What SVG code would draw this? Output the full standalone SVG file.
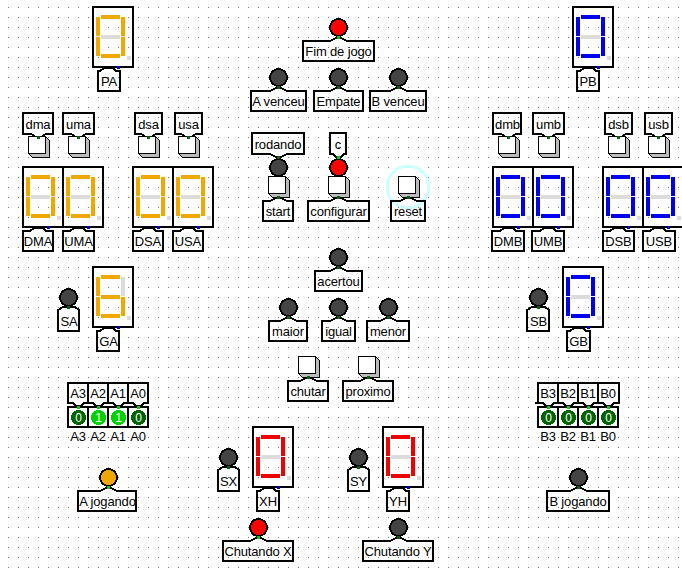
<svg xmlns="http://www.w3.org/2000/svg" width="682" height="574" viewBox="0 0 682 574">
<style>
*{shape-rendering:crispEdges}
text{font-family:"Liberation Sans",Arial,sans-serif;font-size:13px;letter-spacing:-.15px;fill:#000;text-anchor:middle}
.t{fill:none;stroke:#000;stroke-width:2;stroke-linejoin:miter}
.l{stroke:#000;stroke-width:2}
.off{fill:#444}.red{fill:#f00}.org{fill:#f0a800}
.pd{fill:#006400}.pb{fill:#00d200}
.o{color:#f0a800}.b{color:#0000f0}.r{color:#f00000}
.bit{fill:#fff;stroke:#000;stroke-width:2}
.v{fill:#fff;font-size:12px;letter-spacing:0}
</style>
<defs>
<pattern id="grid" patternUnits="userSpaceOnUse" width="10" height="10"><rect x="8" y="7" width="1" height="1" fill="#777"/></pattern>
<g id="segs">
<rect x="8" y="8" width="19" height="4" fill="currentColor"/>
<rect x="3" y="10" width="4" height="19" fill="currentColor"/>
<rect x="3" y="30" width="4" height="19" fill="currentColor"/>
<rect x="8" y="47" width="19" height="4" fill="currentColor"/>
<rect x="28" y="30" width="4" height="19" fill="currentColor"/>
</g>
<g id="frame">
<rect width="40" height="60" fill="none" stroke="#000" stroke-width="2"/>
<rect x="34" y="49" width="4" height="4" fill="#dcdcdc"/>
<rect x="24" y="59" width="3" height="3" fill="#0000d2"/>
</g>
<g id="d0">
<use href="#frame"/><use href="#segs"/>
<rect x="28" y="10" width="4" height="19" fill="currentColor"/>
<rect x="8" y="28" width="19" height="4" fill="#dcdcdc"/>
</g>
<g id="d6">
<use href="#frame"/><use href="#segs"/>
<rect x="28" y="10" width="4" height="19" fill="#dcdcdc"/>
<rect x="8" y="28" width="19" height="4" fill="currentColor"/>
</g>
<g id="btn">
<path d="M17.500 .5L21.500 4.500V21.500H4.500L.5 17.500H17.500Z" fill="#bbb" stroke="#000" stroke-width="1"/>
<rect x=".5" y=".5" width="17" height="17" fill="#fff" stroke="#000" stroke-width="1"/>
</g>
<rect id="pd" width="3" height="3" fill="#006400"/>
<rect id="pb" width="3" height="3" fill="#00d200"/>
</defs>
<rect width="682" height="574" fill="#fff"/>
<rect width="682" height="574" fill="url(#grid)"/>

<g id="PA"><use href="#d0" class="o" x="93" y="7"/><path class="t" d="M98 71H100L104 68H113L116 71H120V91H98Z"/><text x="109" y="86">PA</text></g>
<g id="PB"><use href="#d0" class="b" x="573" y="7"/><path class="t" d="M577 71H580L584 68H593L596 71H599V91H577Z"/><text x="588" y="86">PB</text></g>

<g id="dma"><path class="t" d="M23 113H53V134H46L41 137H36L31 134H23Z"/><text x="38" y="129">dma</text><use href="#btn" x="28" y="136"/><use href="#pd" x="37" y="136"/></g>
<g id="uma"><path class="t" d="M63 113H94V134H86L81 137H76L71 134H63Z"/><text x="78.500" y="129">uma</text><use href="#btn" x="68" y="136"/><use href="#pd" x="77" y="136"/></g>
<g id="dsa"><path class="t" d="M135 113H162V134H156L151 137H146L141 134H135Z"/><text x="148.500" y="129">dsa</text><use href="#btn" x="138" y="136"/><use href="#pd" x="147" y="136"/></g>
<g id="usa"><path class="t" d="M175 113H202V134H196L191 137H186L181 134H175Z"/><text x="188.500" y="129">usa</text><use href="#btn" x="178" y="136"/><use href="#pd" x="187" y="136"/></g>
<g id="dmb"><path class="t" d="M493 113H521V134H516L511 137H506L501 134H493Z"/><text x="507.500" y="129">dmb</text><use href="#btn" x="498" y="136"/><use href="#pd" x="507" y="136"/></g>
<g id="umb"><path class="t" d="M533 113H564V134H556L551 137H546L541 134H533Z"/><text x="548.500" y="129">umb</text><use href="#btn" x="538" y="136"/><use href="#pd" x="547" y="136"/></g>
<g id="dsb"><path class="t" d="M605 113H632V134H626L621 137H616L611 134H605Z"/><text x="618.500" y="129">dsb</text><use href="#btn" x="608" y="136"/><use href="#pd" x="617" y="136"/></g>
<g id="usb"><path class="t" d="M645 113H672V134H666L661 137H656L651 134H645Z"/><text x="658.500" y="129">usb</text><use href="#btn" x="648" y="136"/><use href="#pd" x="657" y="136"/></g>

<g id="DMA"><use href="#d0" class="o" x="23" y="167"/><path class="t" d="M23 231H30L34 228H43L46 231H53V251H23Z"/><text x="38" y="246">DMA</text></g>
<g id="UMA"><use href="#d0" class="o" x="63" y="167"/><path class="t" d="M63 231H70L74 228H83L86 231H94V251H63Z"/><text x="78.500" y="246">UMA</text></g>
<g id="DSA"><use href="#d0" class="o" x="133" y="167"/><path class="t" d="M133 231H140L144 228H153L156 231H163V251H133Z"/><text x="148" y="246">DSA</text></g>
<g id="USA"><use href="#d0" class="o" x="173" y="167"/><path class="t" d="M173 231H180L184 228H193L196 231H203V251H173Z"/><text x="188" y="246">USA</text></g>
<g id="DMB"><use href="#d0" class="b" x="493" y="167"/><path class="t" d="M492 231H500L504 228H513L516 231H524V251H492Z"/><text x="508" y="246">DMB</text></g>
<g id="UMB"><use href="#d0" class="b" x="533" y="167"/><path class="t" d="M532 231H540L544 228H553L556 231H564V251H532Z"/><text x="548" y="246">UMB</text></g>
<g id="DSB"><use href="#d0" class="b" x="603" y="167"/><path class="t" d="M603 231H610L614 228H623L626 231H634V251H603Z"/><text x="618.500" y="246">DSB</text></g>
<g id="USB"><use href="#d0" class="b" x="643" y="167"/><path class="t" d="M643 231H650L654 228H663L666 231H675V251H643Z"/><text x="659" y="246">USB</text></g>

<g id="fim"><circle class="l red" cx="338.500" cy="27.500" r="8.500"/><path class="t" d="M303 41H330L336 38H341L347 41H374V61H303Z"/><use href="#pb" x="337" y="36"/><text x="338.500" y="56">Fim de jogo</text></g>
<g id="avenceu"><circle class="l off" cx="278.500" cy="77.500" r="8.500"/><path class="t" d="M251 91H270L276 88H281L287 91H306V111H251Z"/><use href="#pd" x="277" y="86"/><text x="278.500" y="106">A venceu</text></g>
<g id="empate"><circle class="l off" cx="338.500" cy="77.500" r="8.500"/><path class="t" d="M314 91H330L336 88H341L347 91H363V111H314Z"/><use href="#pd" x="337" y="86"/><text x="338.500" y="106">Empate</text></g>
<g id="bvenceu"><circle class="l off" cx="398.500" cy="77.500" r="8.500"/><path class="t" d="M370 91H390L396 88H401L407 91H426V111H370Z"/><use href="#pd" x="397" y="86"/><text x="398" y="106">B venceu</text></g>

<g id="rodando"><path class="t" d="M252 133H304V154H287L281 157H276L270 154H252Z"/><text x="278" y="149">rodando</text><circle class="l off" cx="278.500" cy="167.500" r="8.500"/><use href="#pd" x="277" y="156"/></g>
<g id="c"><path class="t" d="M330 133H346V154H344L341 157H336L333 154H330Z"/><text x="338" y="149">c</text><circle class="l red" cx="338.500" cy="167.500" r="8.500"/><use href="#pb" x="337" y="156"/></g>
<g id="start"><use href="#btn" x="268" y="176"/><path class="t" d="M263 201H270L276 198H281L287 201H293V221H263Z"/><use href="#pd" x="277" y="196"/><text x="278" y="216">start</text></g>
<g id="configurar"><use href="#btn" x="328" y="176"/><path class="t" d="M308 201H330L336 198H341L347 201H369V221H308Z"/><use href="#pd" x="337" y="196"/><text x="338.500" y="216">configurar</text></g>
<g id="reset"><circle cx="408" cy="187" r="21" fill="none" stroke="#ccffff" stroke-width="3"/><use href="#btn" x="398" y="176"/><path class="t" d="M391 201H400L406 198H411L417 201H425V221H391Z"/><use href="#pd" x="407" y="196"/><text x="408" y="216">reset</text></g>

<g id="acertou"><circle class="l off" cx="338.500" cy="257.500" r="8.500"/><path class="t" d="M315 271H330L336 268H341L347 271H362V291H315Z"/><use href="#pd" x="337" y="266"/><text x="338.500" y="286">acertou</text></g>
<g id="maior"><circle class="l off" cx="288.500" cy="307.500" r="8.500"/><path class="t" d="M269 321H280L286 318H291L297 321H307V341H269Z"/><use href="#pd" x="287" y="316"/><text x="288" y="336">maior</text></g>
<g id="igual"><circle class="l off" cx="338.500" cy="307.500" r="8.500"/><path class="t" d="M322 321H330L336 318H341L347 321H355V341H322Z"/><use href="#pd" x="337" y="316"/><text x="338.500" y="336">igual</text></g>
<g id="menor"><circle class="l off" cx="388.500" cy="307.500" r="8.500"/><path class="t" d="M367 321H380L386 318H391L397 321H409V341H367Z"/><use href="#pd" x="387" y="316"/><text x="388" y="336">menor</text></g>
<g id="chutar"><use href="#btn" x="298" y="356"/><path class="t" d="M288 381H300L306 378H311L317 381H328V401H288Z"/><use href="#pd" x="307" y="376"/><text x="308" y="396">chutar</text></g>
<g id="proximo"><use href="#btn" x="358" y="356"/><path class="t" d="M343 381H360L366 378H371L377 381H393V401H343Z"/><use href="#pd" x="367" y="376"/><text x="368" y="396">proximo</text></g>

<g id="SA"><circle class="l off" cx="68.500" cy="297.500" r="8.500"/><path class="t" d="M58 310L63 307H75L79 310V331H58Z"/><use href="#pd" x="67" y="306"/><text x="69" y="326">SA</text></g>
<g id="GA"><use href="#d6" class="o" x="93" y="267"/><path class="t" d="M97 331H100L104 328H113L116 331H119V351H97Z"/><text x="108.500" y="346">GA</text></g>
<g id="SB"><circle class="l off" cx="538.500" cy="297.500" r="8.500"/><path class="t" d="M527 310L532 307H545L549 310V331H527Z"/><use href="#pd" x="537" y="306"/><text x="538.500" y="326">SB</text></g>
<g id="GB"><use href="#d0" class="b" x="563" y="267"/><path class="t" d="M567 331H570L574 328H583L586 331H590V351H567Z"/><text x="578.500" y="346">GB</text></g>

<g id="A3"><path class="t" d="M68 383H88V403H84L81 406H76L73 403H68Z"/><text x="78" y="398">A3</text><rect class="bit" x="68" y="407" width="20" height="20"/><circle class="pd" cx="78.500" cy="417.500" r="7.500"/><text class="v" x="78.500" y="422">0</text><use href="#pb" x="77" y="406"/><text x="78" y="441">A3</text></g>
<g id="A2"><path class="t" d="M88 383H108V403H104L101 406H96L93 403H88Z"/><text x="98" y="398">A2</text><rect class="bit" x="88" y="407" width="20" height="20"/><circle class="pb" cx="98.500" cy="417.500" r="7.500"/><text class="v" x="98.500" y="422">1</text><use href="#pb" x="97" y="406"/><text x="98" y="441">A2</text></g>
<g id="A1"><path class="t" d="M108 383H128V403H124L121 406H116L113 403H108Z"/><text x="118" y="398">A1</text><rect class="bit" x="108" y="407" width="20" height="20"/><circle class="pb" cx="118.500" cy="417.500" r="7.500"/><text class="v" x="118.500" y="422">1</text><use href="#pb" x="117" y="406"/><text x="118" y="441">A1</text></g>
<g id="A0"><path class="t" d="M128 383H148V403H144L141 406H136L133 403H128Z"/><text x="138" y="398">A0</text><rect class="bit" x="128" y="407" width="20" height="20"/><circle class="pd" cx="138.500" cy="417.500" r="7.500"/><text class="v" x="138.500" y="422">0</text><use href="#pb" x="137" y="406"/><text x="138" y="441">A0</text></g>

<g id="B3"><path class="t" d="M538 383H558V403H554L551 406H546L543 403H535H538Z"/><text x="548" y="398">B3</text><rect class="bit" x="538" y="407" width="20" height="20"/><circle class="pd" cx="548.500" cy="417.500" r="7.500"/><text class="v" x="548.500" y="422">0</text><use href="#pb" x="547" y="406"/><text x="548" y="441">B3</text></g>
<g id="B2"><path class="t" d="M558 383H578V403H574L571 406H566L563 403H558Z"/><text x="568" y="398">B2</text><rect class="bit" x="558" y="407" width="20" height="20"/><circle class="pd" cx="568.500" cy="417.500" r="7.500"/><text class="v" x="568.500" y="422">0</text><use href="#pb" x="567" y="406"/><text x="568" y="441">B2</text></g>
<g id="B1"><path class="t" d="M578 383H598V403H594L591 406H586L583 403H578Z"/><text x="588" y="398">B1</text><rect class="bit" x="578" y="407" width="20" height="20"/><circle class="pd" cx="588.500" cy="417.500" r="7.500"/><text class="v" x="588.500" y="422">0</text><use href="#pb" x="587" y="406"/><text x="588" y="441">B1</text></g>
<g id="B0"><path class="t" d="M598 383H619V403H614L611 406H606L603 403H598Z"/><text x="608" y="398">B0</text><rect class="bit" x="598" y="407" width="20" height="20"/><circle class="pd" cx="608.500" cy="417.500" r="7.500"/><text class="v" x="608.500" y="422">0</text><use href="#pb" x="607" y="406"/><text x="608" y="441">B0</text></g>

<g id="ajogando"><circle class="l org" cx="108.500" cy="477.500" r="8.500"/><path class="t" d="M78 491H100L106 488H111L117 491H136V511H78Z"/><use href="#pb" x="107" y="486"/><text x="107.500" y="506">A jogando</text></g>
<g id="bjogando"><circle class="l off" cx="578.500" cy="477.500" r="8.500"/><path class="t" d="M547 491H570L576 488H581L587 491H609V511H547Z"/><use href="#pd" x="577" y="486"/><text x="578" y="506">B jogando</text></g>

<g id="SX"><circle class="l off" cx="228.500" cy="457.500" r="8.500"/><path class="t" d="M218 470L223 467H235L239 470V491H218Z"/><use href="#pd" x="227" y="466"/><text x="228.500" y="486">SX</text></g>
<g id="XH"><use href="#d0" class="r" x="253" y="427"/><path class="t" d="M257 491H260L264 488H273L276 491H279V511H257Z"/><text x="268" y="506">XH</text></g>
<g id="SY"><circle class="l off" cx="358.500" cy="457.500" r="8.500"/><path class="t" d="M348 470L353 467H365L369 470V491H348Z"/><use href="#pd" x="357" y="466"/><text x="358.500" y="486">SY</text></g>
<g id="YH"><use href="#d0" class="r" x="383" y="427"/><path class="t" d="M387 491H390L394 488H403L406 491H409V511H387Z"/><text x="398" y="506">YH</text></g>
<g id="chutandox"><circle class="l red" cx="258.500" cy="527.500" r="8.500"/><path class="t" d="M223 541H250L256 538H261L267 541H293V561H223Z"/><use href="#pb" x="257" y="536"/><text x="258" y="556">Chutando X</text></g>
<g id="chutandoy"><circle class="l off" cx="398.500" cy="527.500" r="8.500"/><path class="t" d="M363 541H390L396 538H401L407 541H433V561H363Z"/><use href="#pd" x="397" y="536"/><text x="398" y="556">Chutando Y</text></g>
</svg>
